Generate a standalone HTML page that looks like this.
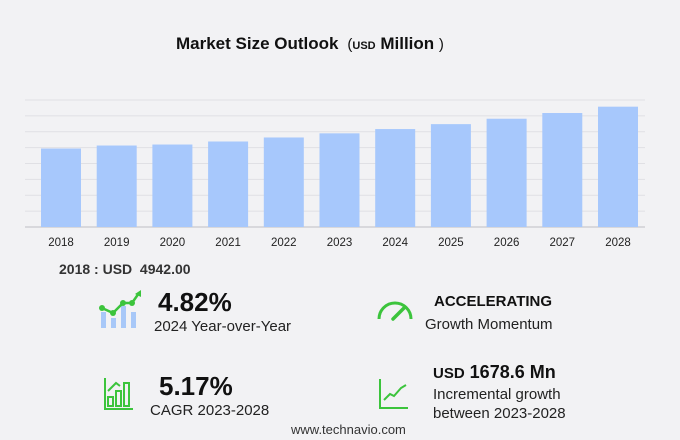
<!DOCTYPE html>
<html><head><meta charset="utf-8">
<style>
body{margin:0;background:#f2f2f4;font-family:"Liberation Sans",sans-serif;}
#wrap{position:relative;width:680px;height:440px;overflow:hidden;background:#f2f2f4;}
.t{position:absolute;white-space:nowrap;color:#111;}
</style></head><body>
<div id="wrap">
<div class="t" style="left:176px;top:34px;font-size:17px;font-weight:bold;">Market Size Outlook <span style="font-weight:normal;font-size:15px;">&nbsp;(</span><span style="font-size:11px;">USD</span> Million <span style="font-weight:normal;font-size:15px;">)</span></div>
<svg id="chart" width="680" height="260" style="position:absolute;left:0;top:0"></svg>
<div class="t" style="left:59px;top:261px;font-size:14px;font-weight:bold;color:#333;">2018 : USD &nbsp;4942.00</div>

<svg width="44" height="40" style="position:absolute;left:99px;top:290px">
<rect x="2" y="22" width="5" height="16" fill="#a8c8f8"/><rect x="12" y="28" width="5" height="10" fill="#a8c8f8"/><rect x="22" y="16" width="5" height="22" fill="#a8c8f8"/><rect x="32" y="22" width="5" height="16" fill="#a8c8f8"/>
<polyline points="3,18 14,23 24,13 33,13 40,3" fill="none" stroke="#3cc43c" stroke-width="2.5"/>
<circle cx="3" cy="18" r="3" fill="#3cc43c"/><circle cx="14" cy="23" r="3" fill="#3cc43c"/><circle cx="24" cy="13" r="3" fill="#3cc43c"/><circle cx="33" cy="13" r="3" fill="#3cc43c"/>
<polygon points="36,4 42,0 42,7" fill="#3cc43c"/></svg>
<div class="t" style="left:158px;top:287px;font-size:26px;font-weight:bold;">4.82%</div>
<div class="t" style="left:154px;top:318px;font-size:15px;color:#222;">2024 Year-over-Year</div>

<svg width="40" height="26" style="position:absolute;left:375px;top:297px">
<path d="M4,22 A16,16 0 0 1 36,22" fill="none" stroke="#3cc43c" stroke-width="3"/>
<line x1="18" y1="22" x2="30" y2="10" stroke="#3cc43c" stroke-width="3.5" stroke-linecap="round"/></svg>
<div class="t" style="left:434px;top:293px;font-size:15px;font-weight:bold;">ACCELERATING</div>
<div class="t" style="left:425px;top:316px;font-size:15px;color:#222;">Growth Momentum</div>

<svg width="30" height="34" style="position:absolute;left:104px;top:377px">
<g fill="none" stroke="#3cc43c" stroke-width="2"><rect x="4" y="20" width="5" height="9"/><rect x="12" y="14" width="5" height="15"/><rect x="20" y="6" width="5" height="23"/><polyline points="1,1 1,32 29,32"/><polyline points="4,14 12,6 16,9"/></g></svg>
<div class="t" style="left:159px;top:371px;font-size:26px;font-weight:bold;">5.17%</div>
<div class="t" style="left:150px;top:402px;font-size:15px;color:#222;">CAGR 2023-2028</div>

<svg width="30" height="32" style="position:absolute;left:379px;top:378px">
<g fill="none" stroke="#3cc43c" stroke-width="2"><polyline points="1,1 1,30 29,30"/><polyline points="5,22 11,16 15,18 22,10 27,7"/></g></svg>
<div class="t" style="left:433px;top:362px;font-size:18px;font-weight:bold;"><span style="font-size:15px">USD</span> 1678.6 Mn</div>
<div class="t" style="left:433px;top:385px;font-size:15px;color:#222;line-height:19px;">Incremental growth<br>between 2023-2028</div>
<div class="t" style="left:291px;top:422px;font-size:13px;color:#333;">www.technavio.com</div>
</div>
<script>
const years=["2018","2019","2020","2021","2022","2023","2024","2025","2026","2027","2028"];
const values=[4942,5132,5196,5386,5639,5900,6170,6480,6820,7180,7579];
const gridTicks=[0,1000,2000,3000,4000,5000,6000,7000,8000];
const svg=document.getElementById('chart');
const NS='http://www.w3.org/2000/svg';
const y0=227,yTop=100,yMax=8000;
function ys(v){return y0-(v/yMax)*(y0-yTop);}
function xs(i){return 41+i*55.7;}
gridTicks.forEach(t=>{
 const l=document.createElementNS(NS,'line');
 l.setAttribute('x1',25);l.setAttribute('x2',645);
 l.setAttribute('y1',ys(t));l.setAttribute('y2',ys(t));
 l.setAttribute('stroke',t===0?'#d0d0d4':'#e0e0e4');l.setAttribute('stroke-width',t===0?1.5:1);
 
 
 svg.appendChild(l);
});
values.forEach((v,i)=>{
 const r=document.createElementNS(NS,'rect');
 r.setAttribute('x',xs(i));r.setAttribute('width',40);
 r.setAttribute('y',ys(v));r.setAttribute('height',y0-ys(v));
 r.setAttribute('fill','#a7c8fc');
 
 
 svg.appendChild(r);
 const t=document.createElementNS(NS,'text');
 t.setAttribute('x',xs(i)+20);t.setAttribute('y',246);
 t.setAttribute('text-anchor','middle');t.setAttribute('font-size','11.5');
 t.setAttribute('fill','#222');t.setAttribute('font-family','Liberation Sans, sans-serif');
 t.textContent=years[i];
 
 
 svg.appendChild(t);
});
</script>
</body></html>
